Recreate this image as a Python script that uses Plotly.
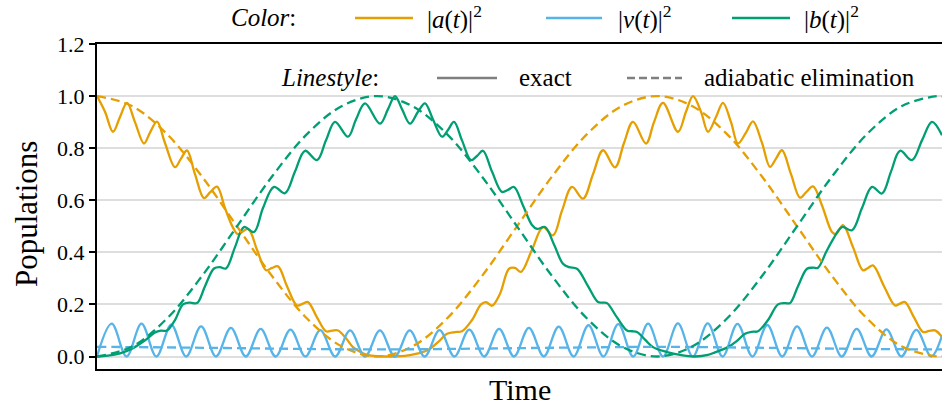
import plotly.graph_objects as go

# ---- data (time in arbitrary units) ----
a_t = [0, 8, 16, 23, 30, 38, 47, 53, 60, 68, 78, 84, 90, 98, 107, 113, 120, 128, 136, 141, 151,
       160, 169, 175, 181, 190, 200, 206, 211, 220, 229, 235, 241, 249, 256, 263, 270, 283, 296,
       308, 321, 331, 341, 350, 358, 365, 375, 384, 389, 395, 403, 412, 418, 424, 435, 446, 456,
       465, 475, 486, 496, 506, 518, 527, 536, 549, 557, 566, 581, 589, 596, 604, 611, 619, 626,
       634, 641, 649, 656, 665, 673, 679, 685, 694, 703, 709, 716, 725, 735, 739, 746, 756, 766,
       771, 776, 787, 798, 803, 808, 817, 826, 832, 838, 845]
a_exact = [1.0, 0.94, 0.863, 0.92, 0.974, 0.90, 0.818, 0.86, 0.902, 0.82, 0.727, 0.76, 0.791, 0.70,
           0.608, 0.63, 0.652, 0.57, 0.495, 0.47, 0.49, 0.41, 0.331, 0.34, 0.346, 0.27, 0.196, 0.203,
           0.209, 0.15, 0.097, 0.099, 0.100, 0.07, 0.036, 0.018, 0.006, 0.001, 0.0, 0.002, 0.012,
           0.025, 0.055, 0.087, 0.094, 0.097, 0.14, 0.20, 0.209, 0.195, 0.241, 0.337, 0.34, 0.325,
           0.41, 0.497, 0.465, 0.56, 0.651, 0.606, 0.70, 0.792, 0.726, 0.82, 0.901, 0.818, 0.90,
           0.974, 0.863, 0.94, 1.0, 0.94, 0.863, 0.92, 0.974, 0.90, 0.818, 0.86, 0.903, 0.82, 0.728,
           0.76, 0.792, 0.70, 0.610, 0.63, 0.653, 0.58, 0.478, 0.470, 0.504, 0.42, 0.331, 0.34, 0.35,
           0.27, 0.196, 0.203, 0.209, 0.15, 0.094, 0.098, 0.100, 0.075]

b_t = [0, 11, 23, 36, 48, 58, 64, 70, 78, 86, 93, 100, 108, 117, 123, 129, 138, 147, 157, 166, 177,
       188, 198, 208, 220, 229, 238, 251, 259, 268, 283, 291, 298, 305, 313, 321, 328, 336, 345,
       351, 357, 365, 374, 380, 386, 395, 405, 411, 417, 426, 435, 440, 448, 457, 466, 472, 480,
       491, 501, 506, 510, 520, 530, 535, 540, 548, 556, 570, 583, 598, 611, 618, 631, 640, 648,
       655, 661, 671, 681, 688, 693, 701, 710, 716, 721, 729, 736, 745, 755, 765, 775, 785, 794,
       803, 815, 825, 835, 845]
b_exact = [0.0, 0.003, 0.012, 0.032, 0.062, 0.092, 0.099, 0.100, 0.14, 0.20, 0.207, 0.205, 0.27,
           0.338, 0.343, 0.338, 0.42, 0.497, 0.478, 0.57, 0.651, 0.627, 0.71, 0.79, 0.754, 0.83,
           0.901, 0.844, 0.91, 0.972, 0.894, 0.95, 1.0, 0.95, 0.894, 0.94, 0.972, 0.91, 0.844, 0.87,
           0.901, 0.83, 0.754, 0.77, 0.79, 0.71, 0.632, 0.64, 0.651, 0.58, 0.505, 0.49, 0.497, 0.43,
           0.356, 0.343, 0.337, 0.27, 0.209, 0.207, 0.205, 0.15, 0.100, 0.097, 0.094, 0.065, 0.036,
           0.017, 0.006, 0.0, 0.006, 0.016, 0.036, 0.06, 0.087, 0.095, 0.097, 0.14, 0.200, 0.205,
           0.205, 0.27, 0.337, 0.341, 0.341, 0.40, 0.45, 0.497, 0.485, 0.57, 0.651, 0.626, 0.71,
           0.79, 0.754, 0.83, 0.901, 0.85]

v_t = [0, 14.7, 29.6, 44.5, 59.4, 74.3, 89.2, 104.1, 119.0, 133.9, 148.8, 163.7, 178.6, 193.5,
       208.4, 223.3, 238.2, 253.1, 268.0, 282.9, 297.8, 312.7, 327.6, 342.5, 357.4, 372.3, 387.2,
       402.1, 417.0, 431.9, 446.8, 461.7, 476.6, 491.5, 506.4, 521.3, 536.2, 551.1, 566.0, 580.9,
       595.8, 610.7, 625.6, 640.5, 655.4, 670.3, 685.2, 700.1, 715.0, 729.9, 744.8, 759.7, 774.6,
       789.5, 804.4, 819.3, 834.2, 845]
v_exact = [0.0, 0.126, 0.0, 0.126, 0.0, 0.122, 0.0, 0.116, 0.0, 0.110, 0.0, 0.106, 0.0, 0.103,
           0.0, 0.101, 0.0, 0.100, 0.0, 0.100, 0.0, 0.100, 0.0, 0.101, 0.0, 0.103, 0.0, 0.106,
           0.0, 0.110, 0.0, 0.115, 0.0, 0.120, 0.0, 0.124, 0.0, 0.126, 0.0, 0.127, 0.0, 0.127,
           0.0, 0.125, 0.0, 0.121, 0.0, 0.116, 0.0, 0.111, 0.0, 0.106, 0.0, 0.104, 0.0, 0.102,
           0.0, 0.08]

ad_t = [0, 35, 70, 105, 140, 175, 210, 245, 280, 315, 350, 385, 420, 455, 490, 525, 560, 595,
        630, 665, 700, 735, 770, 805, 840, 845]
a_adiab = [1.0, 0.962, 0.854, 0.691, 0.5, 0.309, 0.146, 0.038, 0.0, 0.038, 0.146, 0.309, 0.5,
           0.691, 0.854, 0.962, 1.0, 0.962, 0.854, 0.691, 0.5, 0.309, 0.146, 0.038, 0.0, 0.001]
b_adiab = [0.0, 0.038, 0.146, 0.309, 0.5, 0.691, 0.854, 0.962, 1.0, 0.962, 0.854, 0.691, 0.5,
           0.309, 0.146, 0.038, 0.0, 0.038, 0.146, 0.309, 0.5, 0.691, 0.854, 0.962, 1.0, 0.999]
vd_t = [0, 70, 140, 210, 280, 350, 420, 490, 560, 630, 700, 770, 840, 845]
v_adiab = [0.037, 0.035, 0.032, 0.029, 0.027, 0.029, 0.032, 0.035, 0.037, 0.035, 0.032, 0.029,
           0.027, 0.027]

y_ticks = [0.0, 0.2, 0.4, 0.6, 0.8, 1.0, 1.2]
y_tick_text = ["0.0", "0.2", "0.4", "0.6", "0.8", "1.0", "1.2"]

ORANGE = "#E69F00"
BLUE = "#56B4E9"
GREEN = "#009E73"
GRAY = "#7f7f7f"
FONT = "Liberation Serif"
LW = 2.3
DASH = "9px,5px"

fig = go.Figure()
for t, y, c in [(a_t, a_exact, ORANGE), (v_t, v_exact, BLUE), (b_t, b_exact, GREEN)]:
    fig.add_trace(go.Scatter(x=t, y=y, mode="lines",
                             line=dict(color=c, width=LW, shape="spline", smoothing=1.0),
                             showlegend=False, hoverinfo="skip"))
for t, y, c in [(ad_t, a_adiab, ORANGE), (vd_t, v_adiab, BLUE), (ad_t, b_adiab, GREEN)]:
    fig.add_trace(go.Scatter(x=t, y=y, mode="lines",
                             line=dict(color=c, width=LW, dash=DASH, shape="spline", smoothing=1.0),
                             showlegend=False, hoverinfo="skip"))

L, R, T, B = 97, 0, 44, 40
W, H = 942, 409
pw, ph = W - L - R, H - T - B


def px2x(px):
    return (px - L) / pw


def py2y(py):
    return 1 - (py - T) / ph


ann = []
shapes = []
# legend row 1
row1 = 18
ann.append(dict(text="<i>Color</i>:", x=px2x(263), y=py2y(row1), xanchor="center"))
for (x0, x1, c, lx, lab) in [(355, 413, ORANGE, 425, "|<i>a</i>(<i>t</i>)|<sup>2</sup>"),
                             (546, 602, BLUE, 616, "|<i>v</i>(<i>t</i>)|<sup>2</sup>"),
                             (732, 790, GREEN, 802, "|<i>b</i>(<i>t</i>)|<sup>2</sup>")]:
    shapes.append(dict(type="line", xref="paper", yref="paper", x0=px2x(x0), x1=px2x(x1),
                       y0=py2y(row1), y1=py2y(row1), line=dict(color=c, width=2.3)))
    ann.append(dict(text=lab, x=px2x(lx), y=py2y(row1), xanchor="left"))
# legend row 2
row2 = 78
ann.append(dict(text="<i>Linestyle</i>:", x=px2x(330), y=py2y(row2), xanchor="center"))
shapes.append(dict(type="line", xref="paper", yref="paper", x0=px2x(437), x1=px2x(497),
                   y0=py2y(row2), y1=py2y(row2), line=dict(color=GRAY, width=2.3)))
ann.append(dict(text="exact", x=px2x(517), y=py2y(row2), xanchor="left"))
shapes.append(dict(type="line", xref="paper", yref="paper", x0=px2x(627), x1=px2x(682),
                   y0=py2y(row2), y1=py2y(row2), line=dict(color=GRAY, width=2.3, dash="8px,4px")))
ann.append(dict(text="adiabatic elimination", x=px2x(702), y=py2y(row2), xanchor="left"))

for a in ann:
    a.update(xref="paper", yref="paper", yanchor="middle", showarrow=False,
             font=dict(family=FONT, size=25, color="black"))

# axis titles
ann.append(dict(text="Populations", xref="paper", yref="paper", x=px2x(26), y=py2y(214),
                textangle=-90, showarrow=False, xanchor="center", yanchor="middle",
                font=dict(family=FONT, size=31, color="black")))
ann.append(dict(text="Time", xref="paper", yref="paper", x=0.5, y=py2y(390),
                showarrow=False, xanchor="center", yanchor="middle",
                font=dict(family=FONT, size=30, color="black")))

fig.update_layout(
    width=W, height=H,
    margin=dict(l=L, r=R, t=T, b=B, pad=0),
    paper_bgcolor="white", plot_bgcolor="white",
    annotations=ann, shapes=shapes,
    showlegend=False,
    xaxis=dict(range=[0, 845], showticklabels=False, ticks="", showgrid=False, zeroline=False,
               showline=True, linecolor="black", linewidth=2, mirror=True),
    yaxis=dict(range=[-0.048, 1.2], tickvals=y_ticks, ticktext=y_tick_text, ticks="outside",
               ticklen=6, tickwidth=1.5, tickcolor="black", showgrid=True, gridcolor="#dedede",
               gridwidth=1.5, zeroline=False, showline=True, linecolor="black", linewidth=2,
               tickfont=dict(family=FONT, size=22, color="black")),
)

fig.write_html("out.html")
